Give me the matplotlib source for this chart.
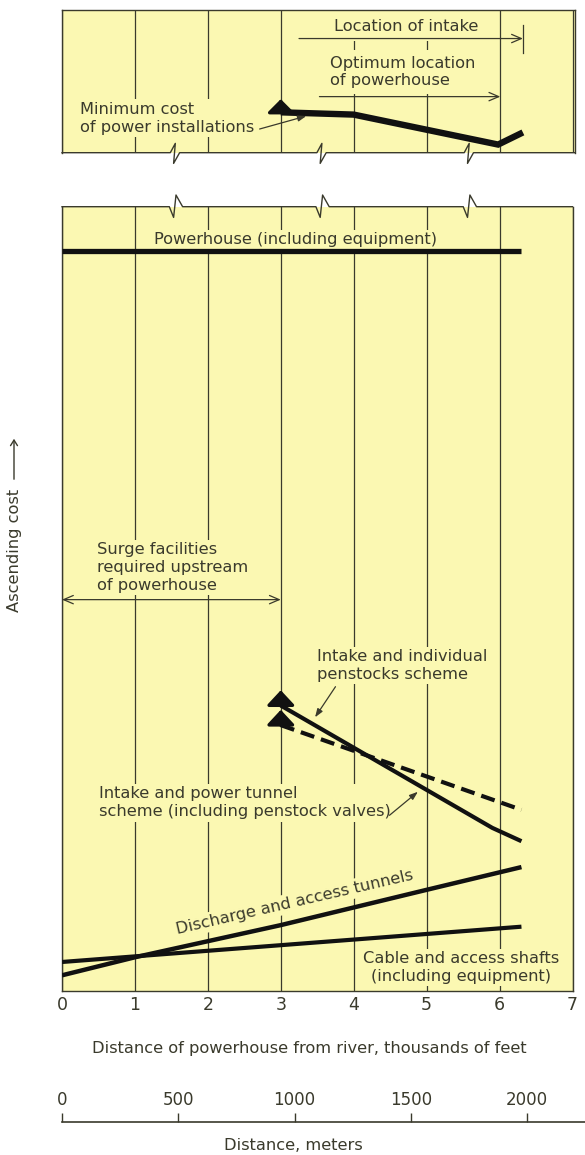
import matplotlib
matplotlib.use("Agg")
import matplotlib.pyplot as plt
from matplotlib.lines import Line2D
from matplotlib.patches import FancyArrowPatch

# ---- data (distance in thousands of feet, cost in relative units) ----
dist_ticks = [0, 1, 2, 3, 4, 5, 6, 7]
meter_ticks = [0, 500, 1000, 1500, 2000]

min_cost_x = [3.0, 4.0, 5.98, 6.32]
min_cost_y = [28.3, 26.7, 5.7, 14.2]

powerhouse_x = [0.0, 6.3]
powerhouse_y = [94.4, 94.4]

penstock_x = [3.0, 5.9, 6.3]
penstock_y = [36.4, 20.8, 19.1]

tunnel_x = [3.0, 6.3]
tunnel_y = [33.9, 23.1]

discharge_x = [0, 1, 3, 5, 6.3]
discharge_y = [2.0, 4.3, 8.4, 12.9, 15.8]

cable_x = [0.0, 6.3]
cable_y = [3.7, 8.2]

break_x = [1.54, 3.55, 5.57]

# ---- styling ----
YELLOW = "#fbf8b2"
INK = "#3a3a2c"
LINE = "#111111"
FS = 11.7
LS = 1.25

plt.rcParams["font.family"] = ["DejaVu Sans"]
plt.rcParams["text.color"] = INK

W, H = 585, 1155
fig = plt.figure(figsize=(W / 100, H / 100), dpi=100)
fig.patch.set_facecolor("white")

px_unit = 510.5 / 7.0
x0_px = 62
ax_top = fig.add_axes([x0_px / W, 1 - 152.7 / H, 513 / W, (152.7 - 10) / H])
ax = fig.add_axes([x0_px / W, 1 - 991 / H, 510.5 / W, (991 - 206.7) / H])
ax_top.set_xlim(0, 513 / px_unit)
ax.set_xlim(0, 7)
ax_top.set_ylim(0, 100)
ax.set_ylim(0, 100)

for a in (ax, ax_top):
    a.set_facecolor(YELLOW)
    for s in a.spines.values():
        s.set_color(INK)
        s.set_linewidth(1.0)
    a.set_xticks(dist_ticks)
    a.set_yticks([])
    a.grid(axis="x", color=INK, linewidth=0.9, zorder=0)
    a.set_axisbelow(True)
    a.tick_params(axis="x", length=0)

ax_top.tick_params(labelbottom=False)
ax.set_xticklabels([str(t) for t in dist_ticks], fontsize=12.5, color=INK)
ax.tick_params(axis="x", pad=3.5)

ax_top.spines["bottom"].set_visible(False)
ax.spines["top"].set_visible(False)


def broken_edge(a, y_edge, shape, width_px, height_px, xmax):
    xs, ys = [0.0], [y_edge]
    for xb in break_x:
        xa = xb / xmax
        for dx, dy in shape:
            xs.append(xa + dx / width_px)
            ys.append(y_edge + dy / height_px)
    xs.append(1.0)
    ys.append(y_edge)
    a.add_line(Line2D(xs, ys, transform=a.transAxes, color=INK, lw=1.0,
                      clip_on=False, zorder=5))


broken_edge(ax_top, 0.0, [(-4, 0), (1, 9.3), (-0.7, -10.7), (5.3, 0)],
            513, 142.7, 513 / px_unit)
broken_edge(ax, 1.0, [(-5, 0), (-0.7, -10.7), (1.7, 11.7), (8.3, 0)],
            510.5, 784.3, 7.0)

box = dict(boxstyle="square,pad=0.15", fc=YELLOW, ec="none")
thin_open = dict(arrowstyle="->,head_length=0.7,head_width=0.3",
                 color=INK, lw=0.9, shrinkA=0, shrinkB=0)
leader = dict(arrowstyle="-|>,head_length=0.5,head_width=0.18",
              color=INK, lw=0.9, shrinkA=0, shrinkB=0)

# ---- top panel: minimum cost ----
ax_top.plot(min_cost_x, min_cost_y, color=LINE, lw=4.6,
            solid_capstyle="butt", solid_joinstyle="miter", zorder=3)
ax_top.annotate("", xy=(min_cost_x[0], min_cost_y[0]), xytext=(0, 9.5),
                textcoords="offset points",
                arrowprops=dict(arrowstyle="<|-,head_length=0.4,head_width=0.4",
                                color=LINE, lw=2.5, shrinkA=0, shrinkB=0,
                                mutation_scale=20), zorder=3)

ax_top.text(4.72, 88.6, "Location of intake", fontsize=FS, ha="center",
            va="center", bbox=dict(boxstyle="square,pad=0.45", fc=YELLOW, ec="none"),
            zorder=2)
ax_top.annotate("", xy=(6.32, 80.0), xytext=(3.25, 80.0), arrowprops=thin_open)
ax_top.plot([6.32, 6.32], [70.2, 89.7], color=INK, lw=0.9)

ax_top.text(3.67, 56.5, "Optimum location\nof powerhouse", fontsize=FS,
            ha="left", va="center", linespacing=1.15,
            bbox=dict(boxstyle="square,pad=0.4", fc=YELLOW, ec="none"), zorder=2)
ax_top.annotate("", xy=(6.01, 39.3), xytext=(3.53, 39.3), arrowprops=thin_open)

ax_top.text(0.24, 24.3, "Minimum cost\nof power installations", fontsize=FS,
            ha="left", va="center", linespacing=LS, bbox=box, zorder=2)
ax_top.annotate("", xy=(3.35, 25.7), xytext=(2.71, 16.6), arrowprops=leader)

# ---- bottom panel ----
ax.plot(powerhouse_x, powerhouse_y, color=LINE, lw=3.8, solid_capstyle="butt",
        zorder=3)
ax.text(3.2, 95.8, "Powerhouse (including equipment)", fontsize=FS,
        ha="center", va="center", bbox=box, zorder=2)

ax.text(0.48, 54.0, "Surge facilities\nrequired upstream\nof powerhouse",
        fontsize=FS, ha="left", va="center", linespacing=LS, bbox=box, zorder=2)
ax.annotate("", xy=(3.0, 49.9), xytext=(0.0, 49.9),
            arrowprops=dict(arrowstyle="<->,head_length=0.7,head_width=0.3",
                            color=INK, lw=0.9, shrinkA=0, shrinkB=0))

ax.plot(penstock_x, penstock_y, color=LINE, lw=3.0, solid_capstyle="butt",
        solid_joinstyle="round", zorder=3)
ax.plot(tunnel_x, tunnel_y, color=LINE, lw=3.0, dashes=(3.4, 1.7),
        dash_capstyle="butt", zorder=3)
for xs, ys in ((penstock_x, penstock_y), (tunnel_x, tunnel_y)):
    ax.annotate("", xy=(xs[0], ys[0]), xytext=(0, 11),
                textcoords="offset points",
                arrowprops=dict(arrowstyle="<|-,head_length=0.45,head_width=0.42",
                                color=LINE, lw=2.5, shrinkA=0, shrinkB=0,
                                mutation_scale=20), zorder=3)

ax.text(3.49, 41.5, "Intake and individual\npenstocks scheme", fontsize=FS,
        ha="left", va="center", linespacing=LS, bbox=box, zorder=2)
ax.annotate("", xy=(3.47, 34.9), xytext=(3.75, 38.8), arrowprops=leader)

ax.text(0.505, 24.0, "Intake and power tunnel\nscheme (including penstock valves)",
        fontsize=FS, ha="left", va="center", linespacing=LS, bbox=box, zorder=2)
ax.annotate("", xy=(4.88, 25.4), xytext=(4.49, 22.4), arrowprops=leader)

ax.plot(discharge_x, discharge_y, color=LINE, lw=3.2, solid_capstyle="butt",
        solid_joinstyle="round", zorder=3)
ax.text(3.19, 11.3, "Discharge and access tunnels", fontsize=FS, ha="center",
        va="center", rotation=13, rotation_mode="anchor", bbox=box, zorder=2)

ax.plot(cable_x, cable_y, color=LINE, lw=3.0, solid_capstyle="butt", zorder=3)
ax.text(5.47, 3.0, "Cable and access shafts\n(including equipment)", fontsize=FS,
        ha="center", va="center", linespacing=1.2, bbox=box, zorder=2)

# ---- axis titles ----
fig.text(309 / W, 1 - 1048 / H, "Distance of powerhouse from river, thousands of feet",
         fontsize=11.7, ha="center", va="center", color=INK)
fig.text(14 / W, 1 - 550 / H, "Ascending cost", fontsize=11.7, rotation=90,
         ha="center", va="center", color=INK)
fig.add_artist(FancyArrowPatch(
    (14 / W, 1 - 482 / H), (14 / W, 1 - 436 / H), transform=fig.transFigure,
    arrowstyle="->,head_length=4,head_width=2.5", color=INK, lw=1.0))

# ---- metric scale ----
ax_m = fig.add_axes([x0_px / W, 1 - 1122 / H, (W - x0_px) / W, 9 / H])
ax_m.set_xlim(0, (W - x0_px) / 0.2325)
ax_m.set_ylim(0, 1)
ax_m.patch.set_visible(False)
for side in ("top", "left", "right"):
    ax_m.spines[side].set_visible(False)
ax_m.spines["bottom"].set_color(INK)
ax_m.spines["bottom"].set_linewidth(1.2)
ax_m.set_yticks([])
ax_m.set_xticks(meter_ticks)
ax_m.set_xticklabels([str(t) for t in meter_ticks], fontsize=12, color=INK)
ax_m.tick_params(axis="x", direction="in", length=6.5, width=1.0, color=INK,
                 labelbottom=False, labeltop=True, top=False, bottom=True, pad=3)
fig.text(293 / W, 1 - 1146 / H, "Distance, meters", fontsize=11.7, ha="center",
         va="center", color=INK)

fig.savefig("out.png", dpi=100, facecolor="white")
